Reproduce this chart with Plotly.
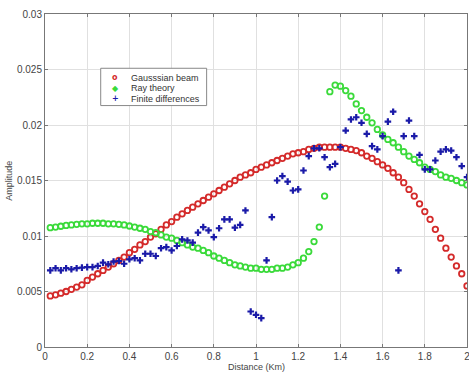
import plotly.graph_objects as go

step = 0.025
n_points = 80
distance = [round(step * (k + 1), 3) for k in range(n_points)]

gaussian_beam = [
    0.0046, 0.0047, 0.00485, 0.0050, 0.0052, 0.0054, 0.0056, 0.0060, 0.0063, 0.0066,
    0.0069, 0.0072, 0.0075, 0.0078, 0.0081, 0.0085, 0.0088, 0.0092, 0.0095, 0.0099,
    0.0102, 0.0106, 0.0110, 0.0113, 0.0117, 0.0120, 0.0123, 0.0126, 0.0129, 0.0132,
    0.0135, 0.0138, 0.0141, 0.0144, 0.0147, 0.0150, 0.0153, 0.0155, 0.0157, 0.0160,
    0.0162, 0.0164, 0.0166, 0.0168, 0.0170, 0.0172, 0.0174, 0.0175, 0.0176, 0.0178,
    0.0179, 0.0180, 0.0180, 0.0180, 0.0180, 0.0180, 0.0179, 0.0178, 0.0177, 0.0175,
    0.0172, 0.0170, 0.0167, 0.0164, 0.0161, 0.0157, 0.0153, 0.0148, 0.0142, 0.0136,
    0.0129, 0.0122, 0.0115, 0.0106, 0.0098, 0.0089, 0.0081, 0.0073, 0.0066, 0.0055,
]

ray_theory = [
    0.01075, 0.0108, 0.01088, 0.01095, 0.0110, 0.01105, 0.0111, 0.0111, 0.01115, 0.01115,
    0.01115, 0.0111, 0.0111, 0.01105, 0.0110, 0.0109, 0.0108, 0.0107, 0.0106, 0.0104,
    0.0103, 0.0101, 0.0099, 0.0098, 0.0096, 0.0094, 0.0092, 0.0090, 0.0089, 0.0087,
    0.0085, 0.0082, 0.0080, 0.0078, 0.0076, 0.0074, 0.0073, 0.0072, 0.0071, 0.0071,
    0.0070, 0.0070, 0.0070, 0.0071, 0.0071, 0.0072, 0.0074, 0.0076, 0.0080, 0.0086,
    0.0095, 0.0108, 0.0136, 0.0230, 0.0236, 0.0235, 0.0231, 0.0226, 0.0219, 0.0213,
    0.0207, 0.0202, 0.0196, 0.0191, 0.0187, 0.0184, 0.0180, 0.0176, 0.0172, 0.0169,
    0.0166, 0.0162, 0.0160, 0.0158, 0.0155, 0.0153, 0.0152, 0.0150, 0.0148, 0.0146,
]

finite_differences = [
    0.0069, 0.0071, 0.0069, 0.0071, 0.0070, 0.0071, 0.00715, 0.0072, 0.0072, 0.0073,
    0.0076, 0.00745, 0.0077, 0.00775, 0.0075, 0.0079, 0.0080, 0.0078, 0.0084, 0.0084,
    0.0082, 0.0089, 0.0090, 0.0087, 0.0091, 0.0097, 0.0096, 0.0094, 0.0103, 0.0108,
    0.0105, 0.0099, 0.0107, 0.0115, 0.0115, 0.01075, 0.0110, 0.0123, 0.0032, 0.0029,
    0.0026, 0.0078, 0.0117, 0.0150, 0.0154, 0.0149, 0.0141, 0.0142, 0.0159, 0.0172,
    0.0179, 0.0179, 0.0171, 0.0162, 0.0165, 0.0180, 0.0195, 0.0205, 0.0207, 0.0202,
    0.0192, 0.0181, 0.0178, 0.0190, 0.0203, 0.0212, 0.0069, 0.0190, 0.0204, 0.0190,
    0.0173, 0.0160, 0.0160, 0.0168, 0.0176, 0.0178, 0.0177, 0.0171, 0.0163, 0.0153,
]

series_names = ["Gausssian beam", "Ray theory", "Finite differences"]
series_colors = ["#d42a2a", "#3ada3a", "#1a1aa8"]
legend_glyphs = ["o", "\u25c6", "+"]

x_ticks = [0, 0.2, 0.4, 0.6, 0.8, 1, 1.2, 1.4, 1.6, 1.8, 2]
x_tick_labels = ["0", "0.2", "0.4", "0.6", "0.8", "1", "1.2", "1.4", "1.6", "1.8", "2"]
y_ticks = [0, 0.005, 0.01, 0.015, 0.02, 0.025, 0.03]
y_tick_labels = ["0", "0.005", "0.01", "0.015", "0.02", "0.025", "0.03"]

FONT = "Liberation Sans, Arial, sans-serif"

fig = go.Figure()
fig.add_trace(go.Scatter(
    x=distance, y=gaussian_beam, mode="markers", name=series_names[0],
    marker=dict(symbol="circle-open", size=5.5, color=series_colors[0],
                line=dict(width=1.8, color=series_colors[0])),
))
fig.add_trace(go.Scatter(
    x=distance, y=ray_theory, mode="markers", name=series_names[1],
    marker=dict(symbol="circle-open", size=5.5, color=series_colors[1],
                line=dict(width=1.8, color=series_colors[1])),
))
fig.add_trace(go.Scatter(
    x=distance, y=finite_differences, mode="markers", name=series_names[2],
    marker=dict(symbol="cross", size=5.5, color=series_colors[2], line=dict(width=0)),
))

axis_common = dict(
    showgrid=True, gridcolor="#e0e0e0", gridwidth=1,
    showline=True, linecolor="#777777", linewidth=1, mirror="ticks",
    ticks="inside", ticklen=3, tickcolor="#777777",
    zeroline=False, automargin=False, ticklabeloverflow="allow",
    tickfont=dict(family=FONT, size=10, color="#444444"),
)

# compact legend (MATLAB style) built from layout elements
box = dict(x0=0.132, x1=0.383, y0=0.725, y1=0.837)
row_y = [0.809, 0.777, 0.745]
annotations = []
for name, color, glyph, yy in zip(series_names, series_colors, legend_glyphs, row_y):
    annotations.append(dict(
        xref="paper", yref="paper", x=0.166, y=yy, xanchor="center", yanchor="middle",
        text="<b>" + glyph + "</b>", showarrow=False,
        font=dict(family="DejaVu Sans, " + FONT, size=8, color=color),
    ))
    annotations.append(dict(
        xref="paper", yref="paper", x=0.198, y=yy, xanchor="left", yanchor="middle",
        text=name, showarrow=False,
        font=dict(family=FONT, size=9, color="#333333"),
    ))
annotations.append(dict(
    xref="paper", yref="paper", x=0.5, y=-0.061, xanchor="center", yanchor="middle",
    text="Distance (Km)", showarrow=False, font=dict(family=FONT, size=9, color="#444444"),
))
annotations.append(dict(
    xref="paper", yref="paper", x=-0.087, y=0.5, xanchor="center", yanchor="middle",
    text="Amplitude", textangle=-90, showarrow=False,
    font=dict(family=FONT, size=9, color="#444444"),
))

fig.update_layout(
    width=469, height=372,
    margin=dict(l=45, r=2, t=14, b=25, autoexpand=False),
    paper_bgcolor="white", plot_bgcolor="white",
    font=dict(family=FONT, size=9, color="#444444"),
    xaxis=dict(range=[0, 2], tickvals=x_ticks, ticktext=x_tick_labels, **axis_common),
    yaxis=dict(range=[0, 0.03], tickvals=y_ticks, ticktext=y_tick_labels, **axis_common),
    showlegend=False,
    shapes=[dict(type="rect", xref="paper", yref="paper", **box,
                 line=dict(color="#888888", width=1), fillcolor="white", layer="above")],
    annotations=annotations,
)

fig.write_html(
    "out.html",
    config={"displayModeBar": False},
    post_script="document.body.style.margin='0';document.body.style.padding='0';document.body.style.overflow='hidden';",
)
